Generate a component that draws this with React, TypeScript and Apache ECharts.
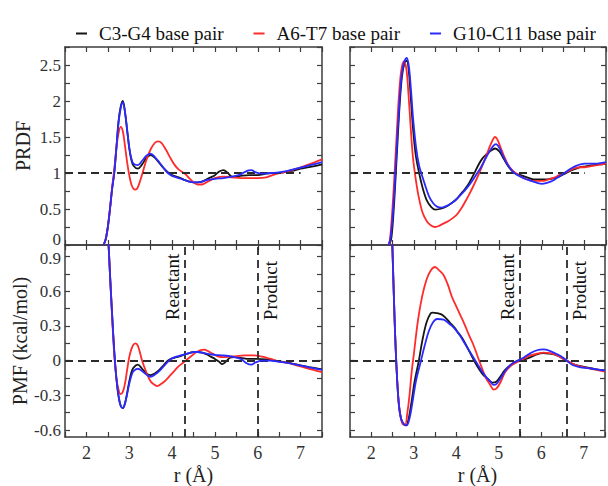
import React, { useEffect, useRef } from 'react';
import * as echarts from 'echarts';

const SERIF = '"Liberation Serif", "Times New Roman", serif';

const seriesNames = ['C3-G4 base pair', 'A6-T7 base pair', 'G10-C11 base pair'];
const seriesColors = ['#151515', '#ff2a2a', '#2a2aff'];

const xLabelValues = [2, 3, 4, 5, 6, 7];
const prdfLabelValues = [0, 0.5, 1, 1.5, 2, 2.5];
const pmfLabelValues = [-0.6, -0.3, 0, 0.3, 0.6, 0.9];
const pmfTickValues = [-0.6, -0.45, -0.3, -0.15, 0, 0.15, 0.3, 0.45, 0.6, 0.75, 0.9];

const markersLeft = { reactant: 4.3, product: 6.0 };
const markersRight = { reactant: 5.5, product: 6.6 };

// ---- PRDF, left panel ----
const prdfLeftC3G4 = [[2.40,0],[2.45,0.08],[2.5,0.25],[2.55,0.5],[2.6,0.78],[2.65,1.0],[2.7,1.35],[2.75,1.72],[2.8,1.92],[2.85,2.0],[2.9,1.85],[2.95,1.6],[3.0,1.35],[3.05,1.18],[3.1,1.1],[3.2,1.06],[3.3,1.12],[3.4,1.21],[3.5,1.25],[3.6,1.21],[3.7,1.14],[3.8,1.07],[3.9,1.01],[4.0,0.97],[4.1,0.95],[4.2,0.93],[4.3,0.9],[4.4,0.88],[4.5,0.87],[4.6,0.87],[4.7,0.88],[4.8,0.91],[4.9,0.94],[5.0,0.97],[5.1,1.02],[5.2,1.04],[5.3,1.0],[5.4,0.95],[5.5,0.95],[5.6,0.96],[5.8,0.97],[6.0,0.97],[6.2,0.99],[6.4,1.0],[6.6,1.01],[6.8,1.03],[7.0,1.06],[7.2,1.08],[7.5,1.12]];
const prdfLeftA6T7 = [[2.40,0],[2.45,0.08],[2.5,0.25],[2.55,0.5],[2.6,0.8],[2.65,1.05],[2.7,1.35],[2.75,1.55],[2.8,1.64],[2.85,1.58],[2.9,1.38],[2.95,1.15],[3.0,0.97],[3.05,0.84],[3.1,0.78],[3.15,0.77],[3.2,0.8],[3.3,0.98],[3.4,1.18],[3.5,1.33],[3.6,1.42],[3.67,1.44],[3.75,1.42],[3.85,1.33],[3.95,1.22],[4.05,1.12],[4.15,1.05],[4.3,0.99],[4.4,0.93],[4.5,0.87],[4.6,0.84],[4.7,0.84],[4.8,0.87],[4.9,0.9],[5.0,0.93],[5.2,0.95],[5.4,0.94],[5.6,0.93],[5.8,0.93],[6.0,0.93],[6.2,0.94],[6.4,0.98],[6.6,1.01],[6.8,1.04],[7.0,1.08],[7.2,1.12],[7.5,1.19]];
const prdfLeftG10C11 = [[2.40,0],[2.45,0.08],[2.5,0.25],[2.55,0.5],[2.6,0.78],[2.65,1.0],[2.7,1.35],[2.75,1.7],[2.8,1.9],[2.85,1.98],[2.9,1.85],[2.95,1.6],[3.0,1.35],[3.05,1.2],[3.1,1.13],[3.2,1.11],[3.3,1.17],[3.4,1.24],[3.5,1.27],[3.6,1.22],[3.7,1.15],[3.8,1.07],[3.9,1.0],[4.0,0.96],[4.1,0.94],[4.2,0.92],[4.3,0.9],[4.4,0.88],[4.5,0.87],[4.6,0.87],[4.7,0.88],[4.8,0.9],[4.9,0.91],[5.0,0.92],[5.2,0.93],[5.4,0.95],[5.6,0.98],[5.75,1.03],[5.85,1.04],[5.95,1.01],[6.1,0.99],[6.3,1.0],[6.5,1.01],[6.7,1.03],[6.9,1.06],[7.1,1.09],[7.3,1.12],[7.5,1.15]];

// ---- PRDF, right panel ----
const prdfRightC3G4 = [[2.42,0],[2.47,0.1],[2.52,0.45],[2.57,0.95],[2.62,1.5],[2.67,2.0],[2.72,2.35],[2.78,2.53],[2.83,2.56],[2.88,2.4],[2.93,2.0],[2.98,1.6],[3.04,1.25],[3.12,1.0],[3.2,0.8],[3.3,0.62],[3.4,0.53],[3.5,0.49],[3.6,0.5],[3.7,0.52],[3.8,0.55],[3.9,0.59],[4.0,0.64],[4.1,0.71],[4.2,0.78],[4.3,0.87],[4.4,0.98],[4.5,1.1],[4.6,1.2],[4.7,1.26],[4.8,1.31],[4.9,1.34],[5.0,1.3],[5.1,1.2],[5.2,1.1],[5.3,1.03],[5.4,0.99],[5.5,0.97],[5.6,0.95],[5.7,0.93],[5.8,0.91],[5.9,0.91],[6.0,0.91],[6.1,0.91],[6.2,0.92],[6.3,0.93],[6.4,0.95],[6.5,0.98],[6.6,1.01],[6.7,1.04],[6.8,1.06],[6.9,1.08],[7.0,1.09],[7.1,1.1],[7.2,1.11],[7.3,1.12],[7.4,1.12],[7.5,1.13]];
const prdfRightA6T7 = [[2.42,0],[2.45,0.15],[2.5,0.55],[2.55,1.05],[2.6,1.6],[2.65,2.1],[2.7,2.42],[2.76,2.55],[2.82,2.45],[2.87,2.1],[2.92,1.65],[2.97,1.25],[3.02,1.0],[3.1,0.7],[3.2,0.45],[3.3,0.33],[3.4,0.27],[3.5,0.25],[3.6,0.27],[3.7,0.3],[3.8,0.33],[3.9,0.37],[4.0,0.42],[4.1,0.5],[4.2,0.6],[4.3,0.71],[4.4,0.83],[4.5,0.96],[4.6,1.1],[4.7,1.25],[4.8,1.4],[4.9,1.5],[4.95,1.47],[5.0,1.4],[5.1,1.25],[5.2,1.12],[5.3,1.04],[5.4,0.99],[5.5,0.95],[5.6,0.92],[5.7,0.9],[5.8,0.89],[5.9,0.89],[6.0,0.89],[6.1,0.9],[6.2,0.92],[6.3,0.94],[6.4,0.97],[6.5,0.99],[6.6,1.02],[6.7,1.05],[6.8,1.07],[6.9,1.08],[7.0,1.08],[7.1,1.09],[7.2,1.1],[7.3,1.11],[7.4,1.12],[7.5,1.13]];
const prdfRightG10C11 = [[2.40,0],[2.45,0.1],[2.5,0.4],[2.55,0.85],[2.6,1.4],[2.65,1.9],[2.7,2.3],[2.76,2.52],[2.83,2.6],[2.88,2.48],[2.93,2.15],[2.98,1.75],[3.05,1.35],[3.12,1.1],[3.17,1.0],[3.25,0.85],[3.35,0.68],[3.45,0.58],[3.55,0.53],[3.65,0.52],[3.75,0.54],[3.85,0.57],[3.95,0.61],[4.05,0.67],[4.15,0.73],[4.25,0.8],[4.35,0.88],[4.45,0.97],[4.55,1.06],[4.65,1.17],[4.75,1.28],[4.85,1.37],[4.92,1.4],[5.0,1.35],[5.1,1.22],[5.2,1.11],[5.3,1.03],[5.4,0.98],[5.5,0.95],[5.6,0.92],[5.7,0.9],[5.8,0.88],[5.9,0.86],[6.0,0.85],[6.1,0.86],[6.2,0.88],[6.3,0.91],[6.4,0.95],[6.5,0.99],[6.6,1.03],[6.7,1.07],[6.8,1.1],[6.9,1.12],[7.0,1.13],[7.1,1.13],[7.2,1.13],[7.3,1.13],[7.4,1.14],[7.5,1.15]];

// ---- PMF, left panel ----
const pmfLeftC3G4 = [[2.45,1.6],[2.5,1.15],[2.55,0.75],[2.6,0.4],[2.65,0.08],[2.7,-0.16],[2.75,-0.31],[2.8,-0.39],[2.85,-0.41],[2.9,-0.37],[2.95,-0.28],[3.0,-0.18],[3.05,-0.1],[3.1,-0.06],[3.2,-0.035],[3.3,-0.07],[3.4,-0.11],[3.5,-0.125],[3.6,-0.11],[3.7,-0.08],[3.8,-0.04],[3.9,0.0],[4.0,0.02],[4.1,0.03],[4.2,0.04],[4.3,0.055],[4.4,0.065],[4.5,0.075],[4.6,0.075],[4.7,0.07],[4.8,0.055],[4.9,0.035],[5.0,0.015],[5.1,-0.01],[5.17,-0.03],[5.25,-0.01],[5.35,0.025],[5.45,0.03],[5.6,0.025],[5.8,0.015],[6.0,0.015],[6.2,0.01],[6.4,0.0],[6.6,-0.01],[6.8,-0.025],[7.0,-0.04],[7.2,-0.055],[7.5,-0.075]];
const pmfLeftA6T7 = [[2.45,1.6],[2.5,1.15],[2.55,0.75],[2.6,0.38],[2.65,0.05],[2.7,-0.15],[2.75,-0.25],[2.8,-0.29],[2.85,-0.27],[2.9,-0.2],[2.95,-0.08],[3.0,0.03],[3.05,0.1],[3.1,0.14],[3.15,0.15],[3.2,0.13],[3.25,0.07],[3.3,0.0],[3.4,-0.1],[3.5,-0.18],[3.6,-0.21],[3.65,-0.22],[3.75,-0.2],[3.85,-0.17],[3.95,-0.13],[4.05,-0.09],[4.15,-0.05],[4.25,-0.02],[4.35,0.01],[4.45,0.04],[4.55,0.07],[4.65,0.09],[4.75,0.095],[4.85,0.08],[4.95,0.06],[5.05,0.04],[5.2,0.03],[5.35,0.035],[5.5,0.04],[5.7,0.045],[5.9,0.045],[6.1,0.035],[6.3,0.015],[6.5,-0.005],[6.7,-0.02],[6.9,-0.04],[7.1,-0.06],[7.3,-0.08],[7.5,-0.1]];
const pmfLeftG10C11 = [[2.45,1.6],[2.5,1.15],[2.55,0.75],[2.6,0.4],[2.65,0.08],[2.7,-0.15],[2.75,-0.3],[2.8,-0.39],[2.85,-0.41],[2.9,-0.37],[2.95,-0.29],[3.0,-0.2],[3.05,-0.13],[3.1,-0.09],[3.2,-0.07],[3.3,-0.09],[3.4,-0.12],[3.5,-0.14],[3.6,-0.12],[3.7,-0.09],[3.8,-0.05],[3.9,-0.01],[4.0,0.02],[4.1,0.035],[4.2,0.045],[4.3,0.055],[4.4,0.065],[4.5,0.075],[4.6,0.075],[4.7,0.07],[4.8,0.06],[4.9,0.055],[5.0,0.05],[5.2,0.045],[5.4,0.035],[5.6,0.015],[5.75,-0.025],[5.85,-0.035],[5.95,-0.015],[6.1,0.0],[6.3,0.0],[6.5,-0.01],[6.7,-0.02],[6.9,-0.035],[7.1,-0.05],[7.3,-0.065],[7.5,-0.08]];

// ---- PMF, right panel ----
const pmfRightC3G4 = [[2.45,1.5],[2.5,0.95],[2.55,0.35],[2.6,-0.1],[2.65,-0.38],[2.7,-0.5],[2.76,-0.55],[2.82,-0.56],[2.88,-0.5],[2.95,-0.35],[3.02,-0.18],[3.12,0.0],[3.2,0.17],[3.3,0.33],[3.4,0.41],[3.45,0.415],[3.55,0.41],[3.65,0.4],[3.75,0.37],[3.85,0.33],[3.95,0.29],[4.05,0.24],[4.15,0.19],[4.25,0.12],[4.35,0.05],[4.45,-0.02],[4.55,-0.08],[4.65,-0.13],[4.75,-0.16],[4.85,-0.19],[4.95,-0.18],[5.05,-0.13],[5.15,-0.08],[5.3,-0.03],[5.45,0.0],[5.6,0.01],[5.75,0.03],[5.9,0.055],[6.05,0.065],[6.2,0.06],[6.3,0.055],[6.4,0.04],[6.5,0.02],[6.6,0.0],[6.75,-0.03],[6.9,-0.045],[7.1,-0.06],[7.3,-0.075],[7.5,-0.085]];
const pmfRightA6T7 = [[2.45,1.5],[2.5,0.95],[2.55,0.35],[2.6,-0.1],[2.65,-0.38],[2.7,-0.5],[2.75,-0.55],[2.8,-0.55],[2.85,-0.45],[2.9,-0.3],[2.95,-0.1],[3.0,0.05],[3.1,0.35],[3.2,0.56],[3.3,0.7],[3.4,0.78],[3.5,0.81],[3.6,0.78],[3.7,0.74],[3.8,0.66],[3.9,0.55],[4.0,0.47],[4.1,0.39],[4.2,0.31],[4.3,0.22],[4.4,0.14],[4.5,0.04],[4.6,-0.06],[4.7,-0.15],[4.8,-0.21],[4.88,-0.25],[4.95,-0.24],[5.05,-0.18],[5.15,-0.1],[5.3,-0.04],[5.45,-0.01],[5.6,0.02],[5.75,0.045],[5.9,0.06],[6.05,0.07],[6.2,0.065],[6.35,0.05],[6.5,0.02],[6.6,0.0],[6.75,-0.03],[6.9,-0.05],[7.1,-0.065],[7.3,-0.08],[7.5,-0.095]];
const pmfRightG10C11 = [[2.45,1.5],[2.5,0.95],[2.55,0.35],[2.6,-0.1],[2.65,-0.38],[2.7,-0.5],[2.77,-0.55],[2.83,-0.56],[2.9,-0.5],[2.97,-0.36],[3.05,-0.18],[3.17,0.0],[3.25,0.12],[3.35,0.25],[3.45,0.33],[3.55,0.36],[3.7,0.355],[3.8,0.33],[3.9,0.3],[4.0,0.26],[4.1,0.21],[4.2,0.15],[4.3,0.09],[4.4,0.03],[4.5,-0.03],[4.6,-0.09],[4.7,-0.14],[4.8,-0.18],[4.88,-0.21],[4.95,-0.2],[5.05,-0.15],[5.15,-0.09],[5.3,-0.03],[5.45,0.0],[5.6,0.03],[5.75,0.065],[5.9,0.09],[6.05,0.097],[6.2,0.085],[6.35,0.06],[6.5,0.03],[6.6,0.0],[6.75,-0.04],[6.9,-0.055],[7.1,-0.065],[7.3,-0.075],[7.5,-0.085]];

const FRAME = '#3c3c3c';
const DASH = '#2a2a2a';
const TICK_FONT = 17;

const fmt = (v: number) => String(Math.round(v * 100) / 100);
const isIn = (arr: number[], v: number) => arr.some((t) => Math.abs(t - v) < 1e-6);

function makeXAxes(grid: number, showLabels: boolean) {
  const base: any = {
    type: 'value', gridIndex: grid, min: 1.5, max: 7.5, interval: 0.5,
    axisLine: { show: true, onZero: false, lineStyle: { color: FRAME, width: 1.5 } },
    axisTick: { show: true, inside: true, length: 5, lineStyle: { color: FRAME, width: 1.2 } },
    splitLine: { show: false },
  };
  return [
    {
      ...base, position: 'bottom',
      axisLabel: {
        show: showLabels, margin: 7, fontSize: TICK_FONT + 1, fontFamily: SERIF, color: '#333',
        formatter: (v: number) => (isIn(xLabelValues, v) ? fmt(v) : ''),
      },
      name: showLabels ? 'r (Å)' : '', nameLocation: 'middle', nameGap: 28,
      nameTextStyle: { fontSize: 20, fontFamily: SERIF, color: '#222' },
    },
    { ...base, position: 'top', axisLabel: { show: false } },
  ];
}

function makeYAxes(grid: number, kind: 'prdf' | 'pmf', showLabels: boolean) {
  const common: any = {
    type: 'value', gridIndex: grid,
    axisLine: { show: true, onZero: false, lineStyle: { color: FRAME, width: 1.5 } },
    splitLine: { show: false },
  };
  const label: any = { show: showLabels, margin: 4, fontSize: TICK_FONT, fontFamily: SERIF, color: '#333' };
  const tick: any = { show: true, inside: true, length: 5, lineStyle: { color: FRAME, width: 1.2 } };
  let spec: any;
  if (kind === 'prdf') {
    spec = {
      ...common, min: 0, max: 2.75, interval: 0.25,
      axisTick: tick,
      axisLabel: {
        ...label,
        rich: { z: { fontSize: TICK_FONT, fontFamily: SERIF, color: '#333', padding: [0, 0, 12, 0] } },
        formatter: (v: number) => {
          if (!isIn(prdfLabelValues, v)) return '';
          return Math.abs(v) < 1e-9 ? '{z|0}' : fmt(v);
        },
      },
    };
  } else {
    spec = {
      ...common, min: -0.66, max: 1.0,
      axisTick: { ...tick, customValues: pmfTickValues },
      axisLabel: {
        ...label, customValues: pmfLabelValues,
        rich: { t: { fontSize: TICK_FONT, fontFamily: SERIF, color: '#333', padding: [4, 0, 0, 0] } },
        formatter: (v: number) => (Math.abs(v - 0.9) < 1e-6 ? '{t|0.9}' : fmt(v)),
      },
    };
  }
  const name = showLabels ? (kind === 'prdf' ? 'PRDF' : 'PMF (kcal/mol)') : '';
  return [
    { ...spec, position: 'left', name, nameLocation: 'middle', nameGap: 32, nameTextStyle: { fontSize: 20, fontFamily: SERIF, color: '#222' } },
    { ...spec, position: 'right', axisLabel: { ...spec.axisLabel, show: false } },
  ];
}

const dashStyle = { color: DASH, type: [8, 5] as any, width: 1.8 };

function makeSeries(grid: number, datasets: number[][][], marks: any[]) {
  return datasets.map((d, k) => ({
    type: 'line', name: seriesNames[k], xAxisIndex: grid * 2, yAxisIndex: grid * 2,
    data: d, showSymbol: false, symbol: 'none', smooth: 0.35, clip: true, z: 3 + k,
    lineStyle: { color: seriesColors[k], width: 1.8 },
    itemStyle: { color: seriesColors[k] },
    markLine: k === 0 ? {
      silent: true, symbol: 'none', label: { show: false }, lineStyle: dashStyle, animation: false,
      data: marks,
    } : undefined,
  }));
}

export default function App() {
  const ref = useRef<HTMLDivElement>(null);
  useEffect(() => {
    if (!ref.current) return;
    const chart = echarts.init(ref.current, undefined, { renderer: 'svg' });
    const grids = [
      { left: 65, top: 47, width: 257, height: 198 },
      { left: 65, top: 245, width: 257, height: 199 },
      { left: 350, top: 47, width: 256, height: 198 },
      { left: 350, top: 245, width: 256, height: 199 },
    ];
    const prdfRef = (xEnd: number) => [[{ coord: [1.5, 1] }, { coord: [xEnd, 1] }]];
    const pmfRef = (m: { reactant: number; product: number }) => [
      [{ coord: [1.5, 0] }, { coord: [7.5, 0] }],
      { xAxis: m.reactant },
      { xAxis: m.product },
    ];
    const option: any = {
      animation: false,
      backgroundColor: '#fff',
      legend: {
        data: seriesNames.map((n) => ({ name: n, icon: 'rect' })),
        top: 19, left: 71, itemWidth: 11, itemHeight: 2, itemGap: 30,
        textStyle: { fontSize: 19, fontFamily: SERIF, color: '#111', padding: [0, 0, 0, 7] },
      },
      grid: grids.map((g) => ({ ...g, show: false, containLabel: false })),
      xAxis: [
        ...makeXAxes(0, false), ...makeXAxes(1, true), ...makeXAxes(2, false), ...makeXAxes(3, true),
      ],
      yAxis: [
        ...makeYAxes(0, 'prdf', true), ...makeYAxes(1, 'pmf', true),
        ...makeYAxes(2, 'prdf', false), ...makeYAxes(3, 'pmf', false),
      ],
      series: [
        ...makeSeries(0, [prdfLeftC3G4, prdfLeftA6T7, prdfLeftG10C11], prdfRef(7.0)),
        ...makeSeries(1, [pmfLeftC3G4, pmfLeftA6T7, pmfLeftG10C11], pmfRef(markersLeft)),
        ...makeSeries(2, [prdfRightC3G4, prdfRightA6T7, prdfRightG10C11], prdfRef(7.0)),
        ...makeSeries(3, [pmfRightC3G4, pmfRightA6T7, pmfRightG10C11], pmfRef(markersRight)),
      ],
    };
    chart.setOption(option);

    const labelAt = (axisIdx: number, xv: number, text: string) => {
      const p = chart.convertToPixel({ xAxisIndex: axisIdx, yAxisIndex: axisIdx }, [xv, 0.35]) as number[];
      return {
        type: 'text', x: p[0], y: p[1], rotation: Math.PI / 2, z: 10,
        style: { text, fontSize: 19, fontFamily: SERIF, fill: '#111', align: 'left', verticalAlign: 'middle' },
      };
    };
    const off = 0.29;
    chart.setOption({
      graphic: [
        labelAt(2, markersLeft.reactant - off, 'Reactant'),
        labelAt(2, markersLeft.product + off, 'Product'),
        labelAt(6, markersRight.reactant - off, 'Reactant'),
        labelAt(6, markersRight.product + off, 'Product'),
      ],
    });
    return () => chart.dispose();
  }, []);
  return <div ref={ref} style={{ position: 'absolute', left: 0, top: 0, width: 608, height: 486 }} />;
}
